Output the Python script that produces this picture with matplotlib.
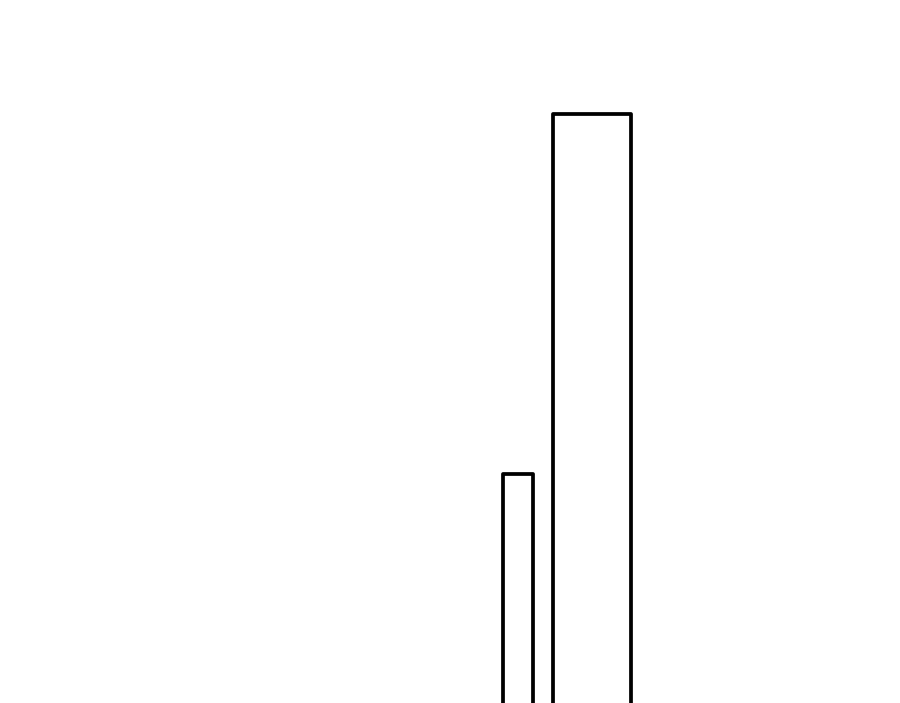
import matplotlib
matplotlib.use("Agg")
import matplotlib.pyplot as plt

# bar positions/heights (axis units = pixels of a 900x703 canvas)
categories = ["A", "B"]
positions = [517.9, 592.2]
values = [228.8, 588.8]
widths = [29.2, 77.7]

fig = plt.figure(figsize=(9.0, 7.03), dpi=100)
ax = fig.add_axes([0, 0, 1, 1])
ax.set_xlim(0, 900)
ax.set_ylim(0, 703)
ax.axis("off")

# bars start below the canvas so their bottom edge is cut off, as in the reference
bars = ax.bar(positions, [v + 20 for v in values], width=widths, bottom=-20,
              facecolor="white", edgecolor="black", linewidth=2.7)
for b in bars:
    b.set_joinstyle("round")

fig.savefig("out.png", dpi=100, facecolor="white")
